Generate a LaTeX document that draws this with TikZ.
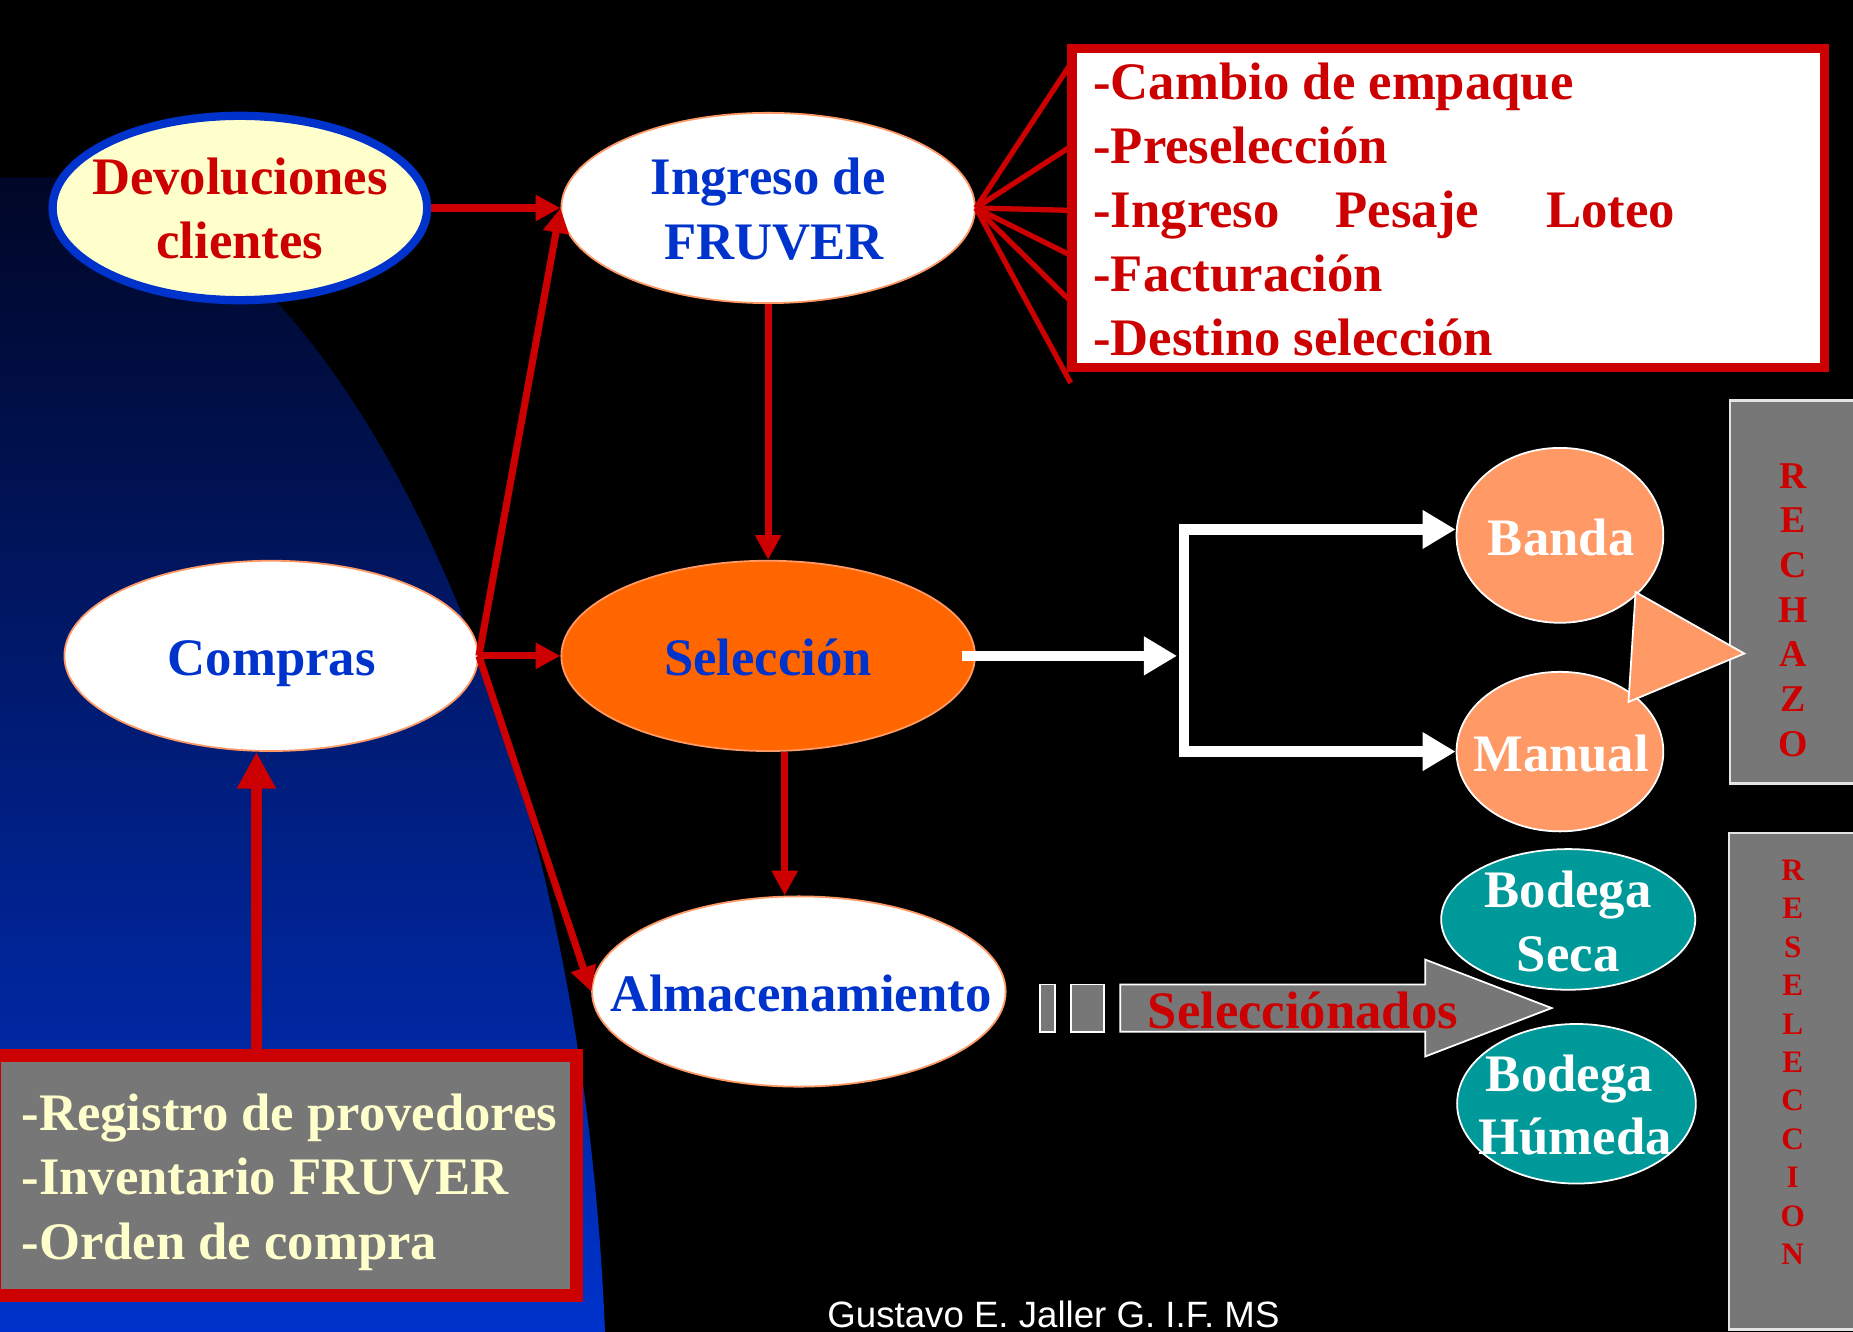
\documentclass[tikz,border=0pt]{standalone}
\usepackage{fontspec}
\setmainfont{Liberation Serif}
\newfontfamily\footfont{Liberation Sans}
\usetikzlibrary{arrows.meta,shapes.geometric}
\definecolor{rd}{HTML}{CC0000}
\definecolor{bl}{HTML}{0033CC}
\definecolor{ly}{HTML}{FFFFCC}
\definecolor{org}{HTML}{FF6600}
\definecolor{lorg}{HTML}{FF9966}
\definecolor{tealc}{HTML}{009999}
\definecolor{gr}{HTML}{777777}
\definecolor{navytop}{HTML}{000626}
\definecolor{navybot}{HTML}{0033CC}
\begin{document}
\begin{tikzpicture}[x=1pt,y=-1pt,
  ell/.style={ellipse,draw=lorg,line width=1.5pt,inner sep=0pt},
  bigtxt/.style={font=\bfseries\fontsize{44.6}{54}\selectfont,inner sep=0pt,anchor=base},
  bigl/.style={bigtxt,anchor=base west},
  redarr/.style={draw=rd,line width=6pt,-{Triangle[width=21pt,length=21pt]}},
  fanline/.style={draw=rd,line width=4.5pt},
  whitearr/.style={draw=white,line width=9pt,line join=miter,-{Triangle[width=31pt,length=28pt]}},
  grbox/.style={fill=gr,draw=white!80!gr,line width=2pt,inner sep=0pt},
  vlet/.style={text=rd,font=\bfseries\fontsize{#1}{#1}\selectfont,inner sep=0pt,anchor=base}
]
\useasboundingbox (0,0) rectangle (1568,1127);
\fill[black] (0,0) rectangle (1568,1127);
\shade[top color=navytop,bottom color=navybot] (-2,150) -- (40,150) .. controls (255,150) and (490,560) .. (512,1129) -- (-2,1129) -- cycle;

% ellipses
\node[ell,draw=bl,line width=7pt,fill=ly,minimum width=317pt,minimum height=156pt] (dev) at (203,176) {};
\node[ell,fill=white,minimum width=350pt,minimum height=161pt] (ing) at (650,176) {};
\node[ell,fill=white,minimum width=350pt,minimum height=161pt] (comp) at (229.5,555) {};
\node[ell,fill=org,minimum width=350pt,minimum height=161pt] (sel) at (650,555) {};
\node[ell,fill=white,minimum width=350pt,minimum height=161pt] (alm) at (676,839) {};

% fan lines and process box
\coordinate (fa) at (906,54);
\coordinate (fb) at (906,124);
\coordinate (fc) at (906,178);
\coordinate (fd) at (906,216);
\coordinate (fe) at (906,255);
\coordinate (ff) at (906,324);
\foreach \c in {fa,fb,fc,fd,fe,ff} \draw[fanline] (ing.east) -- (\c);
\node[draw=rd,line width=8pt,fill=white,minimum width=637pt,minimum height=270pt,inner sep=0pt] (procbox) at (1225.5,176) {};
\node[bigl,text=rd] (p1) at (925,84.6) {-Cambio de empaque};
\node[bigl,text=rd] (p2) at (925,138.7) {-Preselección};
\node[bigl,text=rd] (p3) at (925,192.8) {-Ingreso};
\node[bigl,text=rd] (p3b) at (1130,192.8) {Pesaje};
\node[bigl,text=rd] (p3c) at (1308,192.8) {Loteo};
\node[bigl,text=rd] (p4) at (925,246.9) {-Facturación};
\node[bigl,text=rd] (p5) at (925,301) {-Destino selección};

% ellipse texts
\node[bigtxt,text=rd] (devt1) at (203,165) {Devoluciones};
\node[bigtxt,text=rd] (devt2) at (203,219) {clientes};
\node[bigtxt,text=bl] (ingt1) at (650,165) {Ingreso de};
\node[bigtxt,text=bl] (ingt2) at (655,220) {FRUVER};
\node[bigtxt,text=bl] (compt) at (230,572) {Compras};
\node[bigtxt,text=bl] (selt) at (650,572) {Selección};
\node[bigtxt,text=bl] (almt) at (678,855.5) {Almacenamiento};

% bottom-left box
\node[draw=rd,fill=gr,line width=11pt,minimum width=493pt,minimum height=203pt,inner sep=0pt] (regbox) at (241.5,994.5) {};
\node[bigl,text=ly] (r1) at (18,957) {-Registro de provedores};
\node[bigl,text=ly] (r2) at (18,1011) {-Inventario FRUVER};
\node[bigl,text=ly] (r3) at (18,1066) {-Orden de compra};

% red arrows
\draw[redarr] (dev.east) -- (ing.west);
\draw[redarr] (comp.east) -- (ing.west);
\draw[redarr] (comp.east) -- (sel.west);
\draw[redarr] (comp.east) -- (alm.west);
\draw[redarr] (ing.south) -- (sel.north);
\draw[redarr] ([xshift=14pt]sel.south) -- ([xshift=-12pt]alm.north);
\draw[draw=rd,line width=10pt,-{Triangle[width=31pt,length=31pt]}] ([xshift=-24.5pt]regbox.north) -- ([xshift=-12.5pt]comp.south);

% right side boxes
\node[grbox,minimum width=150pt,minimum height=324pt,anchor=north west] (rchbox) at (1463,338) {};
\node[grbox,minimum width=150pt,minimum height=420pt,anchor=north west] (rsbox) at (1462,704) {};
\foreach \l [count=\i] in {R,E,C,H,A,Z,O}
  \node[vlet=32] (rch\i) at (1517,{413+37.8*(\i-1)}) {\l};
\foreach \l [count=\i] in {R,E,S,E,L,E,C,C,I,O,N}
  \node[vlet=26.4] (rsl\i) at (1517,{745+32.5*(\i-1)}) {\l};

% Banda / Manual
\node[ell,draw=white,fill=lorg,minimum width=175pt,minimum height=148pt] (banda) at (1320,453) {};
\node[ell,draw=white,fill=lorg,minimum width=175pt,minimum height=135pt] (manual) at (1320,636) {};
\node[bigtxt,text=white] (bandat) at (1321,470) {Banda};
\node[bigtxt,text=white] (manualt) at (1321,653) {Manual};
\filldraw[fill=lorg,draw=white,line width=1.5pt] (1384,501) -- (1476,553) -- (1378,594) -- cycle;

% white arrows
\coordinate (wj) at (1002,555);
\draw[whitearr] ([xshift=-12pt]sel.east) -- ([xshift=-6pt]wj);
\draw[whitearr] (wj) |- ([yshift=5pt]banda.west);
\draw[whitearr] (wj) |- (manual.west);

% Seleccionados block arrow
\filldraw[fill=gr,draw=white,line width=1.5pt] (880,833) rectangle (893,873);
\filldraw[fill=gr,draw=white,line width=1.5pt] (906,833) rectangle (934,873);
\filldraw[fill=gr,draw=white,line width=1.5pt] (948,833) -- (1206,833) -- (1206,812) -- (1313,853) -- (1206,894) -- (1206,873) -- (948,873) -- cycle;

% Bodegas
\node[ell,draw=white,fill=tealc,minimum width=215pt,minimum height=119pt] (bseca) at (1327,778) {};
\node[ell,draw=white,fill=tealc,minimum width=202pt,minimum height=135pt] (bhum) at (1334,934) {};
\node[bigtxt,text=white] (bs1) at (1327,768) {Bodega};
\node[bigtxt,text=white] (bs2) at (1327,822) {Seca};
\node[bigtxt,text=white] (bh1) at (1328,924) {Bodega};
\node[bigtxt,text=white] (bh2) at (1333,977) {Húmeda};
\node[bigl,text=rd] (seltxt) at (971,870) {Selecciónados};

% footer
\node[font=\footfont\fontsize{31}{31}\selectfont,text=white,anchor=base west,inner sep=0pt] (foot) at (700,1123) {Gustavo E. Jaller G. I.F. MS};
\end{tikzpicture}
\end{document}
